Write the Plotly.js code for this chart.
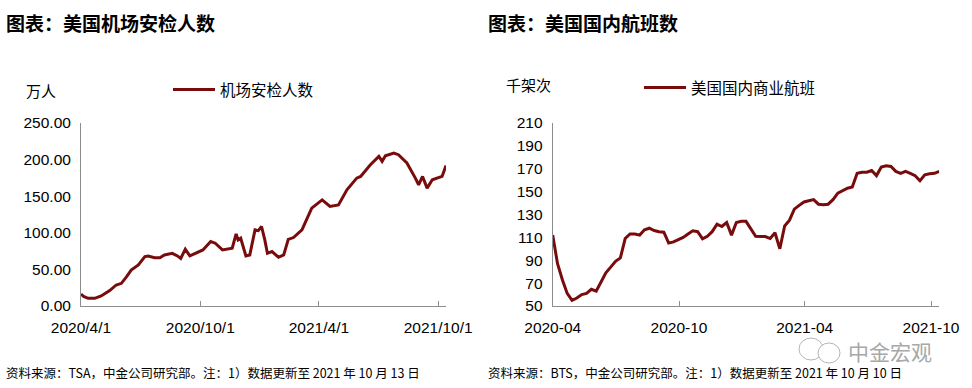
<!DOCTYPE html>
<html><head><meta charset="utf-8">
<script src="https://cdn.plot.ly/plotly-3.0.1.min.js"></script>
<style>html,body{margin:0;padding:0;background:#fff}#chart{width:972px;height:388px}</style>
</head><body><div id="chart"></div>
<script>
// ---- Left chart: TSA airport screenings (10k persons) ----
const tsaDates = ['2020-04-01','2020-04-05','2020-04-12','2020-04-22','2020-05-02','2020-05-15','2020-05-25','2020-06-02','2020-06-10','2020-06-17','2020-06-28','2020-07-08','2020-07-13','2020-07-23','2020-07-31','2020-08-07','2020-08-19','2020-08-27','2020-09-01','2020-09-08','2020-09-15','2020-09-25','2020-10-05','2020-10-17','2020-10-24','2020-11-04','2020-11-10','2020-11-19','2020-11-25','2020-11-28','2020-12-02','2020-12-10','2020-12-16','2020-12-19','2020-12-24','2020-12-29','2021-01-03','2021-01-08','2021-01-12','2021-01-19','2021-01-29','2021-02-06','2021-02-13','2021-02-21','2021-03-06','2021-03-21','2021-04-06','2021-04-18','2021-05-01','2021-05-14','2021-05-29','2021-06-04','2021-06-19','2021-07-02','2021-07-07','2021-07-12','2021-07-25','2021-08-01','2021-08-14','2021-08-27','2021-09-01','2021-09-07','2021-09-14','2021-09-22','2021-10-02','2021-10-07','2021-10-13'];
const tsaValues = [16.4,13,10.5,10.5,13.7,21,28.7,31,40,49,56,67.5,68.4,66,66,69.8,72,68.4,65,77.5,68.4,72,76.6,88,85.8,76.6,77.5,79,98.5,90.3,92.6,68.4,69.8,81.2,104,103,108.6,90.3,72,74.4,66.6,69.8,91,93.5,104,133.7,145,136,138,158.8,174.7,177,193,204.4,197.5,205.3,209,206.7,195.3,174.7,165.6,177,161,172.4,176,177,192];
const tsaTickVals = ['2020-04-01','2020-10-01','2021-04-01','2021-10-01'];
const tsaTickText = ['2020/4/1','2020/10/1','2021/4/1','2021/10/1'];
const tsaYTicks = [0,50,100,150,200,250];

// ---- Right chart: US domestic commercial flights (thousand), weekly ----
const flightStartDate = '2020-04-01';
const flightStepDays = 7;
const flightValues = [112,87,73,61,55,57,60,61,64.6,63,71,79,84,89,92,109,113,113,112,116.6,118,116,115,114.5,105,106,108,110,113,115.7,115,108.7,111,115,121.5,119.5,123,112,123,124,124,118,111,110.7,110.7,109,114,100,120,125,134.7,138,141,142,143,139,138.5,139,143,148.7,151,153,154,166,167,167,168.5,164,171.5,172.6,172,167.7,166,167.7,166,164,159.5,164.7,165.6,166,167.7];
const flightTickVals = ['2020-04-01','2020-10-01','2021-04-01','2021-10-01'];
const flightTickText = ['2020-04','2020-10','2021-04','2021-10'];
const flightYTicks = [50,70,90,110,130,150,170,190,210];

const flightDates = flightValues.map((v,i)=>{
  const d = new Date(flightStartDate+'T00:00:00Z');
  d.setUTCDate(d.getUTCDate()+i*flightStepDays);
  return d.toISOString().slice(0,10);
});

const W=972,H=388;
const px=v=>v/W, py=v=>1-v/H;
const lineColor='#780c0c';
const axisColor='#8c8c8c';
const numFont={family:'"Liberation Sans", Arial, sans-serif', size:15.5, color:'#000'};
const cjk='"Noto Sans CJK SC", "Noto Sans", sans-serif';

const traces=[
  {x:tsaDates,y:tsaValues,type:'scatter',mode:'lines',name:'机场安检人数',
   line:{color:lineColor,width:3},xaxis:'x',yaxis:'y',legend:'legend',hoverinfo:'skip'},
  {x:flightDates,y:flightValues,type:'scatter',mode:'lines',name:'美国国内商业航班',
   line:{color:lineColor,width:3},xaxis:'x2',yaxis:'y2',legend:'legend2',hoverinfo:'skip'}
];

const xBase={type:'date',ticks:'inside',ticklen:5,tickwidth:1,tickcolor:axisColor,showline:true,
  linecolor:axisColor,linewidth:1,showgrid:false,zeroline:false,tickfont:numFont,ticklabelstandoff:7,fixedrange:true};
const yBase={showline:true,linecolor:axisColor,linewidth:1,ticks:'',showgrid:false,zeroline:false,
  tickfont:numFont,ticklabelstandoff:6,fixedrange:true};
const yDom=[py(306),py(123)];

const legBase={xanchor:'left',yanchor:'middle',itemwidth:42,bgcolor:'rgba(0,0,0,0)',borderwidth:0,
  font:{family:cjk,size:15.5,color:'#000'},orientation:'v'};

const layout={
  width:W,height:H,margin:{l:0,r:0,t:0,b:0},paper_bgcolor:'#fff',plot_bgcolor:'#fff',
  showlegend:true,
  xaxis:Object.assign({},xBase,{domain:[px(81),px(446)],anchor:'y',range:['2020-04-01','2021-10-13'],tickvals:tsaTickVals,ticktext:tsaTickText}),
  yaxis:Object.assign({},yBase,{domain:yDom,anchor:'x',range:[0,250],tickvals:tsaYTicks,tickformat:'.2f'}),
  xaxis2:Object.assign({},xBase,{domain:[px(552.7),px(939.3)],anchor:'y2',range:[flightDates[0],flightDates[flightDates.length-1]],tickvals:flightTickVals,ticktext:flightTickText}),
  yaxis2:Object.assign({},yBase,{domain:yDom,anchor:'x2',range:[50,210],tickvals:flightYTicks}),
  legend:Object.assign({},legBase,{x:px(168),y:py(90)}),
  legend2:Object.assign({},legBase,{x:px(639),y:py(88)}),
  annotations:[
    {text:'<b>图表：美国机场安检人数</b>',x:px(4),y:py(22),xref:'paper',yref:'paper',xanchor:'left',yanchor:'middle',showarrow:false,font:{family:cjk,size:19,color:'#000'}},
    {text:'<b>图表：美国国内航班数</b>',x:px(486),y:py(22),xref:'paper',yref:'paper',xanchor:'left',yanchor:'middle',showarrow:false,font:{family:cjk,size:19,color:'#000'}},
    {text:'万人',x:px(24),y:py(90),xref:'paper',yref:'paper',xanchor:'left',yanchor:'middle',showarrow:false,font:{family:cjk,size:15,color:'#000'}},
    {text:'千架次',x:px(504),y:py(84),xref:'paper',yref:'paper',xanchor:'left',yanchor:'middle',showarrow:false,font:{family:cjk,size:15,color:'#000'}},
    {text:'资料来源：TSA，中金公司研究部。注：1）数据更新至 2021 年 10 月 13 日',x:px(4),y:py(372),xref:'paper',yref:'paper',xanchor:'left',yanchor:'middle',showarrow:false,font:{family:cjk,size:12.5,color:'#000'}},
    {text:'资料来源：BTS，中金公司研究部。注：1）数据更新至 2021 年 10 月 10 日',x:px(486),y:py(372),xref:'paper',yref:'paper',xanchor:'left',yanchor:'middle',showarrow:false,font:{family:cjk,size:12.5,color:'#000'}},
    {text:'中金宏观',x:px(846),y:py(351),xref:'paper',yref:'paper',xanchor:'left',yanchor:'middle',showarrow:false,font:{family:cjk,size:21,color:'#a8a8a8'}}
  ],
  shapes:[
    {type:'circle',xref:'paper',yref:'paper',x0:px(799),x1:px(823),y0:py(360),y1:py(338),line:{color:'#b5b5b5',width:1}},
    {type:'circle',xref:'paper',yref:'paper',x0:px(818),x1:px(840),y0:py(363),y1:py(343),line:{color:'#b5b5b5',width:1},fillcolor:'rgba(255,255,255,0.9)'}
  ]
};

Plotly.newPlot('chart',traces,layout,{displayModeBar:false,staticPlot:true});
</script></body></html>
